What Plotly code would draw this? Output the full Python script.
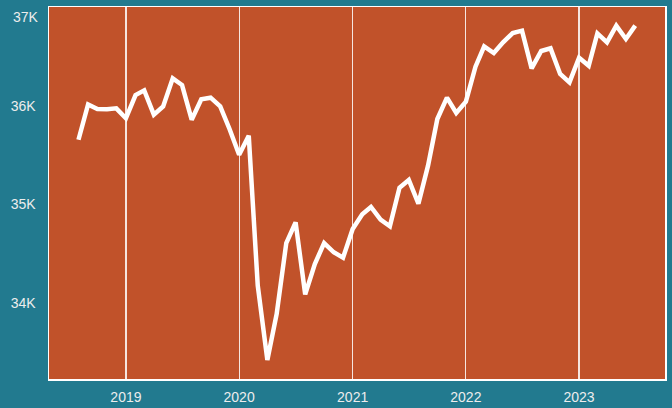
import plotly.graph_objects as go
import pandas as pd

# Monthly values, Aug 2018 - Jul 2023
months = pd.date_range("2018-08-01", "2023-07-01", freq="MS").strftime("%Y-%m-%d").tolist()
values = [
    35655, 36013, 35966, 35963, 35973,                     # 2018 Aug-Dec
    35872, 36108, 36155, 35909, 35993, 36277, 36209, 35858, 36064, 36081, 35993, 35764,  # 2019
    35503, 35696, 34176, 33422, 33889, 34608, 34818, 34088, 34395, 34608, 34514, 34459,  # 2020
    34750, 34899, 34973, 34845, 34777, 35169, 35247, 35007, 35392, 35865, 36081, 35926,  # 2021
    36041, 36395, 36601, 36534, 36642, 36736, 36760, 36378, 36554, 36581, 36321, 36236,  # 2022
    36486, 36405, 36733, 36642, 36811, 36676, 36811,                                    # 2023 Jan-Jul
]
y_tick_vals = [34000, 35000, 36000]
y_tick_text = ["34K", "35K", "36K"]
top_tick_val = 37000
top_tick_text = "37K"
x_tick_vals = ["2019-01-01", "2020-01-01", "2021-01-01", "2022-01-01", "2023-01-01"]
x_tick_text = ["2019", "2020", "2021", "2022", "2023"]

BG = "#227A8F"
PLOT_BG = "#C1522A"
TXT = "#EDEDED"
FONT = "Liberation Sans, Arial, sans-serif"

fig = go.Figure()
fig.add_trace(go.Scatter(
    x=months, y=values, mode="lines",
    line=dict(color="white", width=4.5),
    hoverinfo="skip", showlegend=False,
))

fig.update_layout(
    width=672, height=408,
    margin=dict(l=49, r=7, t=7, b=29, autoexpand=False),
    paper_bgcolor=BG, plot_bgcolor=PLOT_BG,
    font=dict(family=FONT, size=14, color=TXT),
    showlegend=False,
)
fig.update_xaxes(
    type="date", range=["2018-04-28", "2023-10-05"],
    tickvals=x_tick_vals, ticktext=x_tick_text,
    showgrid=True, gridcolor="rgba(255,255,255,0.85)", gridwidth=1.2,
    showline=True, linecolor="white", linewidth=1.5, mirror=True,
    ticks="", ticklabelstandoff=5, zeroline=False, automargin=False,
    tickfont=dict(family=FONT, size=14, color=TXT),
)
fig.update_yaxes(
    range=[33230, 37000],
    tickvals=y_tick_vals, ticktext=y_tick_text,
    showgrid=False, zeroline=False, automargin=False,
    showline=True, linecolor="white", linewidth=1.5, mirror=True,
    ticks="", ticklabelstandoff=9,
    tickfont=dict(family=FONT, size=14, color=TXT),
)
fig.add_annotation(
    x=0, xref="paper", y=top_tick_val, yref="y",
    text=top_tick_text, showarrow=False,
    xanchor="right", yanchor="top", xshift=-8,
    font=dict(family=FONT, size=14, color=TXT),
)

fig.write_html(
    "out.html",
    config={"displayModeBar": False, "staticPlot": True},
    post_script="document.body.style.margin='0';document.body.style.padding='0';"
                "document.body.style.overflow='hidden';document.body.style.background='" + BG + "';",
)
